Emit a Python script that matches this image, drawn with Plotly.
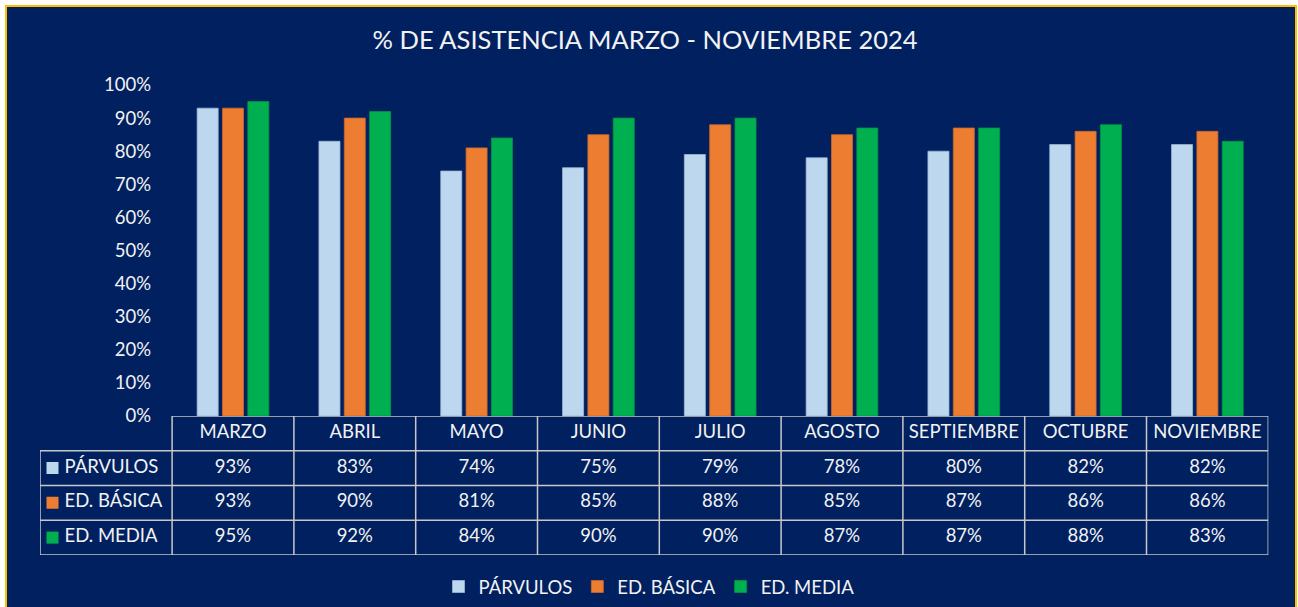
import plotly.graph_objects as go

months = ["MARZO", "ABRIL", "MAYO", "JUNIO", "JULIO", "AGOSTO", "SEPTIEMBRE", "OCTUBRE", "NOVIEMBRE"]
series_names = ["PÁRVULOS", "ED. BÁSICA", "ED. MEDIA"]
parvulos = [93, 83, 74, 75, 79, 78, 80, 82, 82]
ed_basica = [93, 90, 81, 85, 88, 85, 87, 86, 86]
ed_media = [95, 92, 84, 90, 90, 87, 87, 88, 83]
y_ticks = [0, 10, 20, 30, 40, 50, 60, 70, 80, 90, 100]

colors = ["#BDD7EE", "#ED7D31", "#00B050"]
line_colors = ["#9DB9D6", "#C9682A", "#009443"]
NAVY = "#002060"
TXT = "#F2F2F2"
FONT = "Lato"
FS = 18.5
W, H = 1298, 607

# layout constants (pixels)
plot_left, plot_right = 172.1, 1268.3
y0_px, y100_px = 416.0, 85.0
table_left_px, table_bottom_px = 40.0, 555.0
key_center_px, key_text_px = 52.5, 64.5
col_w = (plot_right - plot_left) / len(months)
label_w_units = (plot_left - table_left_px) / col_w


def px_to_x2(px):
    return (px - plot_left) / col_w - 0.5


values = [parvulos, ed_basica, ed_media]

fig = go.Figure()
for name, vals, c, lc in zip(series_names, values, colors, line_colors):
    fig.add_trace(go.Bar(
        x=months, y=[v / 100 for v in vals], name=name,
        marker=dict(color=c, line=dict(color=lc, width=0.8)),
        xaxis="x", yaxis="y", hoverinfo="skip",
    ))

# table values
for r, vals in enumerate(values, start=1):
    fig.add_trace(go.Scatter(
        x=list(range(len(months))), y=[r] * len(months),
        text=[f"{v}%" for v in vals], mode="text",
        textfont=dict(color=TXT, size=FS, family=FONT),
        xaxis="x2", yaxis="y2", showlegend=False, hoverinfo="skip",
    ))
# header
fig.add_trace(go.Scatter(
    x=list(range(len(months))), y=[0] * len(months), text=months, mode="text",
    textfont=dict(color=TXT, size=FS, family=FONT),
    xaxis="x2", yaxis="y2", showlegend=False, hoverinfo="skip",
))
# row labels with colored keys
label_left = -0.5 - label_w_units
for r, (name, c) in enumerate(zip(series_names, colors), start=1):
    fig.add_trace(go.Scatter(
        x=[px_to_x2(key_center_px)], y=[r], mode="markers",
        marker=dict(symbol="square", size=12, color=c),
        xaxis="x2", yaxis="y2", showlegend=False, hoverinfo="skip",
    ))
    fig.add_trace(go.Scatter(
        x=[px_to_x2(key_text_px)], y=[r], text=[name], mode="text",
        textposition="middle right",
        textfont=dict(color=TXT, size=FS, family=FONT),
        xaxis="x2", yaxis="y2", showlegend=False, hoverinfo="skip",
    ))

shapes = [dict(type="rect", xref="paper", yref="paper", x0=6 / W, x1=1296 / W,
               y0=-0.05, y1=1 - 6 / H, fillcolor=NAVY,
               line=dict(color="#FFC000", width=2), layer="below")]
lc = "#C8C8C8"
n = len(months)
for i in range(n + 1):
    shapes.append(dict(type="line", xref="x2", yref="y2", x0=i - 0.5, x1=i - 0.5,
                       y0=-0.5, y1=3.5, line=dict(color=lc, width=1.5)))
shapes.append(dict(type="line", xref="x2", yref="y2", x0=label_left, x1=label_left,
                   y0=0.5, y1=3.5, line=dict(color=lc, width=1.5)))
shapes.append(dict(type="line", xref="x2", yref="y2", x0=-0.5, x1=n - 0.5,
                   y0=-0.5, y1=-0.5, line=dict(color=lc, width=1.5)))
for r in range(1, 5):
    shapes.append(dict(type="line", xref="x2", yref="y2", x0=label_left, x1=n - 0.5,
                       y0=r - 0.5, y1=r - 0.5, line=dict(color=lc, width=1.5)))

fig.update_layout(
    width=W, height=H, autosize=False,
    margin=dict(l=0, r=0, t=0, b=0, autoexpand=False),
    paper_bgcolor="white", plot_bgcolor="rgba(0,0,0,0)",
    font=dict(family=FONT, color=TXT, size=FS),
    title=dict(text="% DE ASISTENCIA MARZO - NOVIEMBRE 2024", x=0.497, xanchor="center",
               y=1 - 40 / H, yanchor="middle",
               font=dict(size=25.5, color=TXT, family=FONT)),
    barmode="group", bargap=0.376, bargroupgap=0.17,
    xaxis=dict(domain=[plot_left / W, plot_right / W], range=[-0.5, n - 0.5],
               showticklabels=False, showgrid=False, zeroline=False, showline=False,
               anchor="y", automargin=False),
    yaxis=dict(domain=[1 - y0_px / H, 1 - y100_px / H], range=[0, 1],
               tickvals=[t / 100 for t in y_ticks], ticktext=[f"{t}%" for t in y_ticks],
               showgrid=False, zeroline=False, showline=False, ticklabelstandoff=20,
               tickfont=dict(size=FS, color=TXT, family=FONT), anchor="x",
               automargin=False),
    xaxis2=dict(domain=[table_left_px / W, plot_right / W], range=[label_left, n - 0.5],
                visible=False, anchor="y2"),
    yaxis2=dict(domain=[1 - table_bottom_px / H, 1 - y0_px / H], range=[3.5, -0.5],
                visible=False, anchor="x2"),
    legend=dict(orientation="h", x=0.5, xanchor="center", y=1 - 587 / H, yanchor="middle",
                font=dict(size=FS, color=TXT, family=FONT), bgcolor="rgba(0,0,0,0)",
                traceorder="normal", itemwidth=30),
    shapes=shapes,
)

fig.write_html("out.html", config={"displayModeBar": False},
               post_script="document.body.style.margin='0';document.body.style.overflow='hidden';")
